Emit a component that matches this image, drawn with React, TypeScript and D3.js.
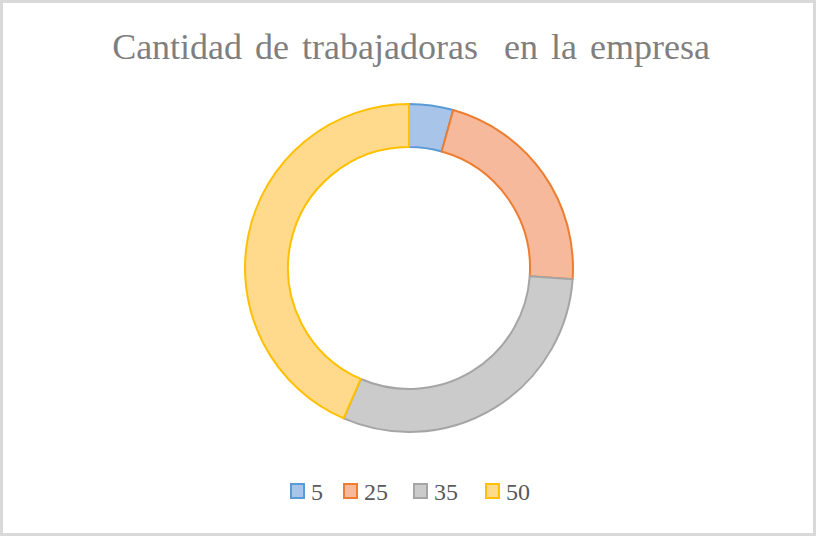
import React from "react";
import * as d3 from "d3";

const labels = ["5", "25", "35", "50"];
const values = [5, 25, 35, 50];
const fills = ["#a8c4e8", "#f6b99b", "#cbcbcb", "#ffd98c"];
const strokes = ["#5b9bd5", "#ed7d31", "#a5a5a5", "#ffc000"];
const title = "Cantidad de trabajadoras  en la empresa";

const FONT = "serif";

export default function App() {
  const W = 817, H = 537;
  const cx = 409, cy = 268, rOuter = 164, rInner = 121;
  const pie = d3.pie<number>().sort(null).value((d) => d);
  const arcs = pie(values);
  const arcGen = d3.arc<d3.PieArcDatum<number>>().innerRadius(rInner).outerRadius(rOuter);
  const legendX = [291, 344, 414, 486];
  return (
    <svg width={W} height={H} style={{ position: "absolute", left: 0, top: 0, fontFamily: FONT }}>
      <rect x={0} y={0} width={W} height={H} fill="#ffffff" />
      <rect x={1.5} y={1.5} width={W - 4} height={H - 4} fill="none" stroke="#d9d9d9" strokeWidth={3} />
      <text x={411} y={59} textAnchor="middle" fontFamily={FONT} fontSize={36} fill="#7f7f7f" wordSpacing={4} style={{ whiteSpace: "pre", fontFamily: FONT }}>
        {title}
      </text>
      <g transform={`translate(${cx},${cy})`}>
        {arcs.map((a, i) => (
          <path key={i} d={arcGen(a) || ""} fill={fills[i]} stroke={strokes[i]} strokeWidth={2} strokeLinejoin="round" />
        ))}
      </g>
      {labels.map((l, i) => (
        <g key={l}>
          <rect x={legendX[i]} y={484} width={13} height={14} fill={fills[i]} stroke={strokes[i]} strokeWidth={2} />
          <text x={legendX[i] + 20} y={500} fontFamily={FONT} fontSize={24} fill="#595959" style={{ fontFamily: FONT }}>
            {l}
          </text>
        </g>
      ))}
    </svg>
  );
}
